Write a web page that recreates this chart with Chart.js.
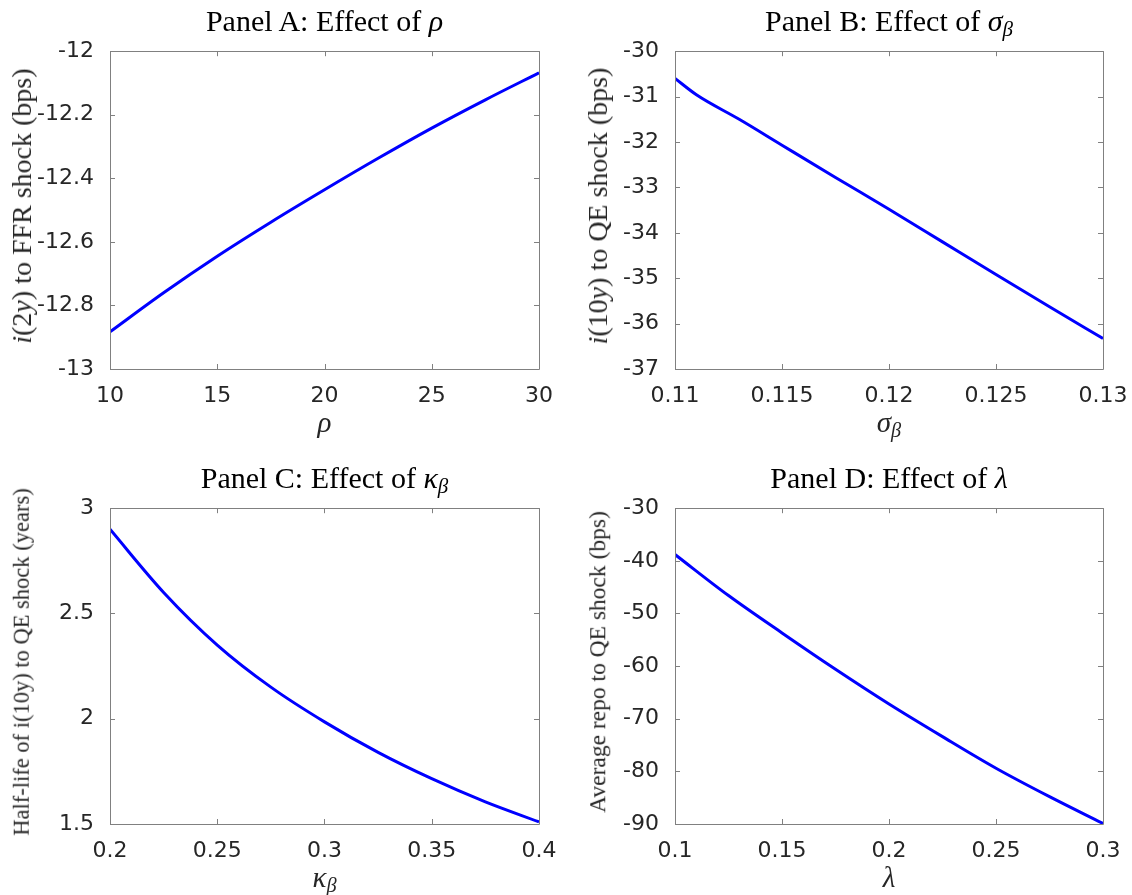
<!DOCTYPE html>
<html>
<head>
<meta charset="utf-8">
<script src="https://cdn.jsdelivr.net/npm/chart.js@4"></script>
<style>
  body { margin: 0; background: #fff; }
  #fig { position: relative; width: 1132px; height: 895px; background: #fff; overflow: hidden; }
  canvas { position: absolute; }
  .lbl { position: absolute; font-family: "Liberation Serif", serif; color: #262626; white-space: nowrap; line-height: 1; }
  .ttl { font-size: 30px; color: #000; transform: translate(-50%, 0); }
  .xl { font-size: 29px; transform: translate(-50%, 0); }
  .yl { transform: translate(-50%, -50%) rotate(-90deg); }
  sub { font-size: 0.7em; vertical-align: -0.25em; line-height: 0; }
</style>
</head>
<body>
<div id="fig"></div>
<script>
// Panel A: effect of rho
const aX = [10, 12.5, 15, 17.5, 20, 22.5, 25, 27.5, 30];
const aY = [-12.883, -12.760, -12.645, -12.538, -12.436, -12.337, -12.242, -12.153, -12.068];
const aXTicks = [10, 15, 20, 25, 30];
const aXLabels = ["10", "15", "20", "25", "30"];
const aYTicks = [-13, -12.8, -12.6, -12.4, -12.2, -12];
const aYLabels = ["-13", "-12.8", "-12.6", "-12.4", "-12.2", "-12"];

// Panel B: effect of sigma_beta
const bX = [0.110, 0.111, 0.113, 0.115, 0.1175, 0.120, 0.1225, 0.125, 0.1275, 0.130];
const bY = [-30.60, -30.96, -31.50, -32.07, -32.78, -33.48, -34.20, -34.92, -35.63, -36.33];
const bXTicks = [0.11, 0.115, 0.12, 0.125, 0.13];
const bXLabels = ["0.11", "0.115", "0.12", "0.125", "0.13"];
const bYTicks = [-37, -36, -35, -34, -33, -32, -31, -30];
const bYLabels = ["-37", "-36", "-35", "-34", "-33", "-32", "-31", "-30"];

// Panel C: effect of kappa_beta
const cX = [0.200, 0.225, 0.250, 0.275, 0.300, 0.325, 0.350, 0.375, 0.400];
const cY = [2.90, 2.60, 2.35, 2.15, 1.985, 1.84, 1.715, 1.605, 1.51];
const cXTicks = [0.2, 0.25, 0.3, 0.35, 0.4];
const cXLabels = ["0.2", "0.25", "0.3", "0.35", "0.4"];
const cYTicks = [1.5, 2, 2.5, 3];
const cYLabels = ["1.5", "2", "2.5", "3"];

// Panel D: effect of lambda
const dX = [0.100, 0.125, 0.150, 0.175, 0.200, 0.225, 0.250, 0.275, 0.300];
const dY = [-38.8, -46.6, -53.7, -60.6, -67.2, -73.4, -79.4, -84.8, -89.9];
const dXTicks = [0.1, 0.15, 0.2, 0.25, 0.3];
const dXLabels = ["0.1", "0.15", "0.2", "0.25", "0.3"];
const dYTicks = [-90, -80, -70, -60, -50, -40, -30];
const dYLabels = ["-90", "-80", "-70", "-60", "-50", "-40", "-30"];

const fig = document.getElementById('fig');
const PADL = 90, PADT = 12, PADR = 34, PADB = 46;
const TICK = 5;
const BOX = '#808080';

// box around the axes plus inward ticks on all four sides
const boxPlugin = {
    id: 'box',
    afterDraw(chart) {
        const { ctx, chartArea: a, scales } = chart;
        ctx.save();
        ctx.strokeStyle = BOX;
        ctx.lineWidth = 1;
        ctx.beginPath();
        ctx.rect(Math.round(a.left) + 0.5, Math.round(a.top) + 0.5,
                 Math.round(a.right - a.left), Math.round(a.bottom - a.top));
        scales.x.ticks.forEach(t => {
            const px = Math.round(scales.x.getPixelForValue(t.value)) + 0.5;
            ctx.moveTo(px, a.bottom); ctx.lineTo(px, a.bottom - TICK);
            ctx.moveTo(px, a.top); ctx.lineTo(px, a.top + TICK);
        });
        scales.y.ticks.forEach(t => {
            const py = Math.round(scales.y.getPixelForValue(t.value)) + 0.5;
            ctx.moveTo(a.left, py); ctx.lineTo(a.left + TICK, py);
            ctx.moveTo(a.right, py); ctx.lineTo(a.right - TICK, py);
        });
        ctx.stroke();
        ctx.restore();
    }
};

function addLabel(html, cls, x, y, size) {
    const d = document.createElement('div');
    d.className = 'lbl ' + cls;
    d.innerHTML = html;
    d.style.left = x + 'px';
    d.style.top = y + 'px';
    if (size) d.style.fontSize = size + 'px';
    fig.appendChild(d);
}

function makePanel(p) {
    const w = p.right - p.left, h = p.bottom - p.top;
    const cv = document.createElement('canvas');
    cv.width = w + PADL + PADR;
    cv.height = h + PADT + PADB;
    cv.style.left = (p.left - PADL) + 'px';
    cv.style.top = (p.top - PADT) + 'px';
    fig.appendChild(cv);

    const tickFont = { family: 'DejaVu Sans', size: 22 };
    new Chart(cv, {
        type: 'line',
        data: {
            datasets: [{
                data: p.xs.map((x, i) => ({ x: x, y: p.ys[i] })),
                borderColor: '#0000ff',
                borderWidth: 3,
                pointRadius: 0,
                cubicInterpolationMode: 'monotone'
            }]
        },
        options: {
            responsive: false,
            animation: false,
            events: [],
            layout: { padding: { left: 0, top: PADT, right: PADR, bottom: 0 } },
            plugins: { legend: { display: false }, tooltip: { enabled: false } },
            scales: {
                x: {
                    type: 'linear',
                    min: p.xTicks[0],
                    max: p.xTicks[p.xTicks.length - 1],
                    grid: { display: false },
                    border: { display: false },
                    afterBuildTicks: s => { s.ticks = p.xTicks.map(v => ({ value: v })); },
                    afterFit: s => { s.height = PADB; },
                    ticks: {
                        color: '#262626',
                        font: tickFont,
                        padding: 6,
                        maxRotation: 0,
                        autoSkip: false,
                        callback: (v, i) => p.xLabels[i]
                    }
                },
                y: {
                    type: 'linear',
                    min: p.yTicks[0],
                    max: p.yTicks[p.yTicks.length - 1],
                    grid: { display: false },
                    border: { display: false },
                    afterBuildTicks: s => { s.ticks = p.yTicks.map(v => ({ value: v })); },
                    afterFit: s => { s.width = PADL; },
                    ticks: {
                        color: '#262626',
                        font: tickFont,
                        padding: 8,
                        autoSkip: false,
                        callback: (v, i) => p.yLabels[i]
                    }
                }
            }
        },
        plugins: [boxPlugin]
    });

    const cx = (p.left + p.right) / 2, cy = (p.top + p.bottom) / 2;
    addLabel(p.title, 'ttl', cx, p.top - 36);
    addLabel(p.xlabel, 'xl', cx, p.bottom + 39);
    addLabel(p.ylabel, 'yl', p.ylabelX, cy, p.ylabelSize);
}

makePanel({
    left: 110, top: 42, right: 539, bottom: 369,
    xs: aX, ys: aY, xTicks: aXTicks, xLabels: aXLabels, yTicks: aYTicks, yLabels: aYLabels,
    title: 'Panel A: Effect of <i>ρ</i>',
    xlabel: '<i>ρ</i>',
    ylabel: '<i>i</i>(2<i>y</i>) to FFR shock (bps)', ylabelX: 22, ylabelSize: 28
});
makePanel({
    left: 675, top: 42, right: 1103, bottom: 369,
    xs: bX, ys: bY, xTicks: bXTicks, xLabels: bXLabels, yTicks: bYTicks, yLabels: bYLabels,
    title: 'Panel B: Effect of <i>σ</i><sub><i>β</i></sub>',
    xlabel: '<i>σ</i><sub><i>β</i></sub>',
    ylabel: '<i>i</i>(10<i>y</i>) to QE shock (bps)', ylabelX: 598, ylabelSize: 28
});
makePanel({
    left: 110, top: 499, right: 539, bottom: 824,
    xs: cX, ys: cY, xTicks: cXTicks, xLabels: cXLabels, yTicks: cYTicks, yLabels: cYLabels,
    title: 'Panel C: Effect of <i>κ</i><sub><i>β</i></sub>',
    xlabel: '<i>κ</i><sub><i>β</i></sub>',
    ylabel: 'Half-life of i(10y) to QE shock (years)', ylabelX: 22, ylabelSize: 22.5
});
makePanel({
    left: 675, top: 499, right: 1103, bottom: 824,
    xs: dX, ys: dY, xTicks: dXTicks, xLabels: dXLabels, yTicks: dYTicks, yLabels: dYLabels,
    title: 'Panel D: Effect of <i>λ</i>',
    xlabel: '<i>λ</i>',
    ylabel: 'Average repo to QE shock (bps)', ylabelX: 598, ylabelSize: 23.5
});
</script>
</body>
</html>
